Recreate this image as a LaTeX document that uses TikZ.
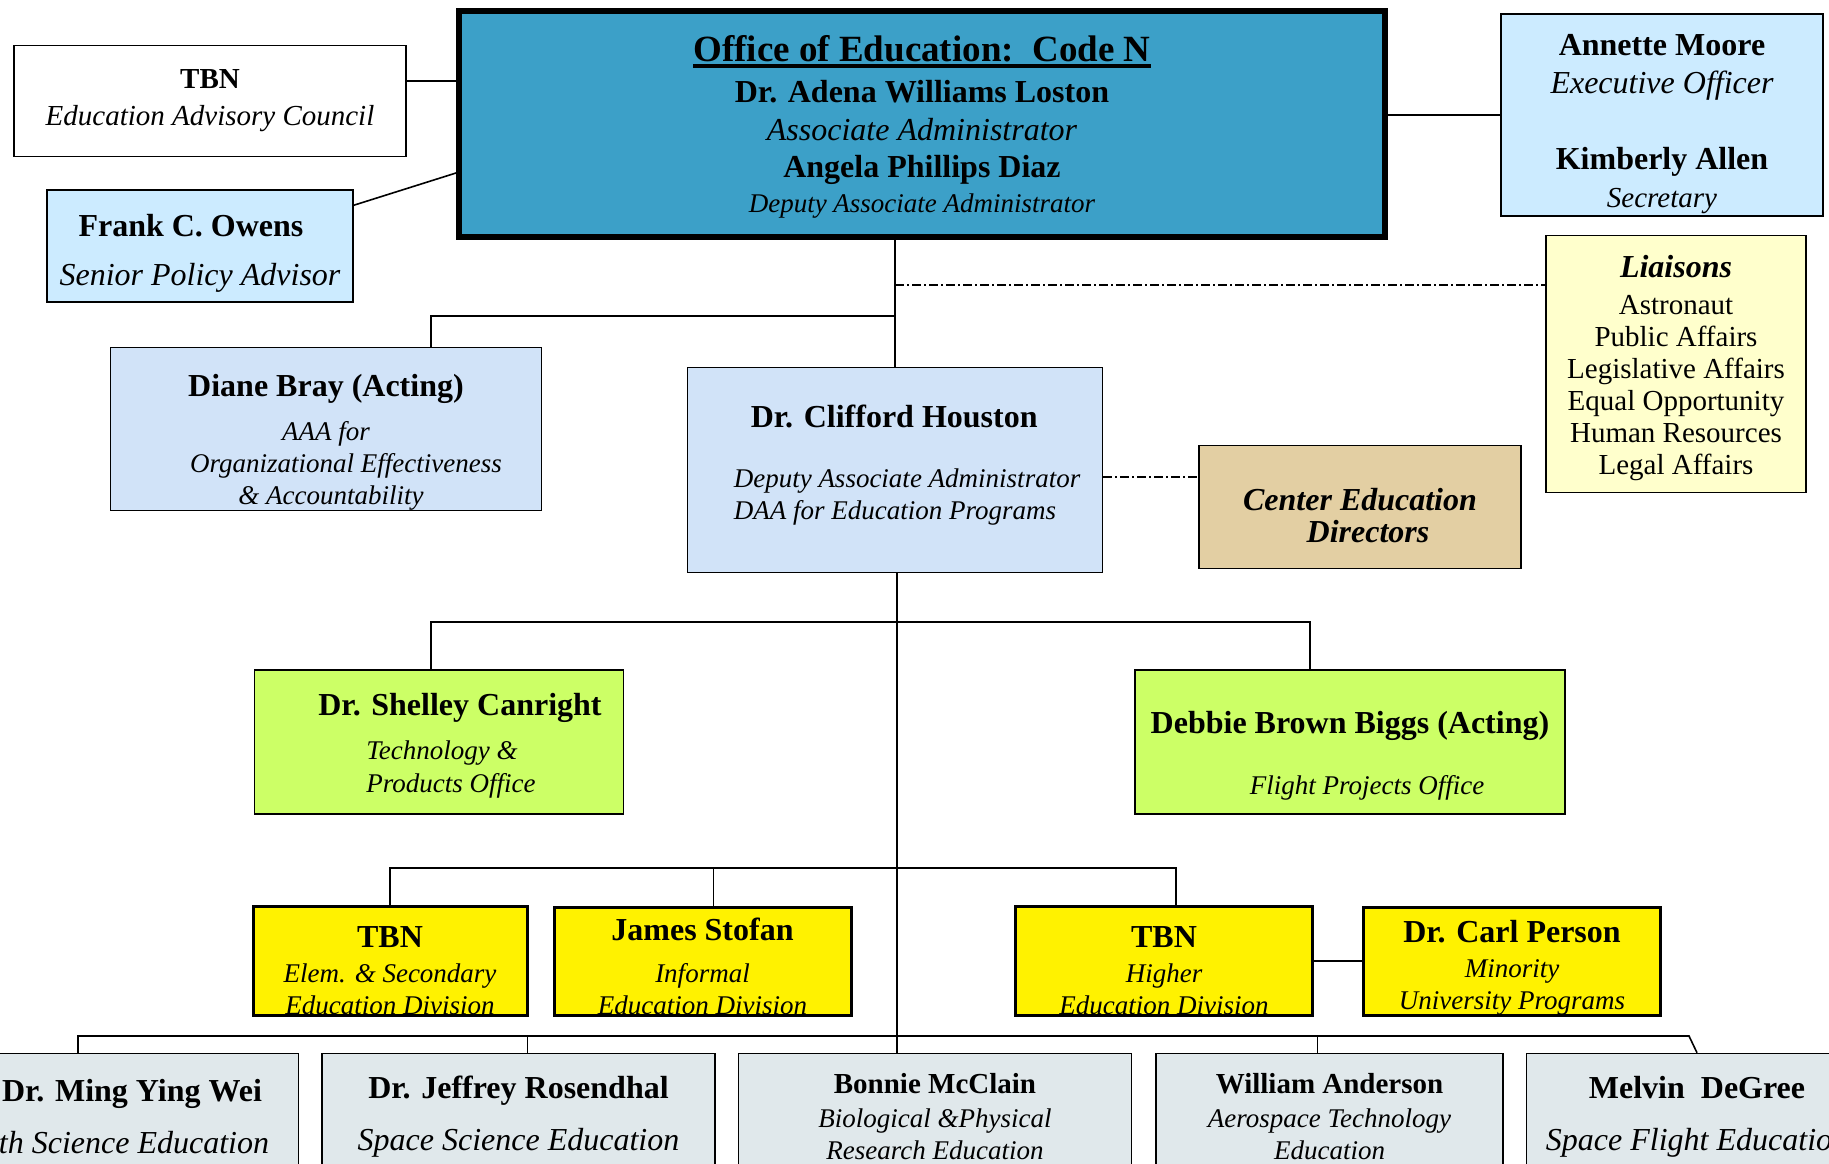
\documentclass[tikz,border=0pt]{standalone}
\usepackage{fontspec}
\setmainfont{Liberation Serif}
\usepackage{tikz}
\usetikzlibrary{positioning}
\definecolor{deskblue}{HTML}{3CA0C8}
\definecolor{staffblue}{HTML}{CCEBFF}
\definecolor{mottled}{HTML}{D1E3F8}
\definecolor{liaisonyellow}{HTML}{FFFFCC}
\definecolor{sand}{HTML}{E3CFA3}
\definecolor{lime}{HTML}{CCFF66}
\definecolor{steel}{HTML}{E0E8EB}
\tikzstyle{orgbox} = [rectangle, draw=black, line width=1.5pt, inner sep=0pt, align=center, font=\fontsize{32}{38}\selectfont]
\tikzstyle{office} = [orgbox, line width=6pt, fill=deskblue, minimum width=926pt, minimum height=226pt]
\tikzstyle{council} = [orgbox, fill=white, font=\fontsize{29}{37}\selectfont]
\tikzstyle{staff} = [orgbox, fill=staffblue]
\tikzstyle{liaison} = [orgbox, fill=liaisonyellow, font=\fontsize{29}{32}\selectfont]
\tikzstyle{deputy} = [orgbox, fill=mottled, font=\fontsize{27}{32}\selectfont\itshape]
\tikzstyle{directors} = [orgbox, fill=sand, font=\fontsize{32}{32}\selectfont\bfseries\itshape]
\tikzstyle{project} = [orgbox, fill=lime, minimum height=144pt, font=\fontsize{27}{33}\selectfont\itshape]
\tikzstyle{division} = [orgbox, line width=3pt, fill=yellow, minimum width=297pt, minimum height=108pt, font=\fontsize{27}{32}\selectfont\itshape]
\tikzstyle{program} = [orgbox, fill=steel, minimum height=127pt, font=\fontsize{32}{38}\selectfont\itshape]
\tikzstyle{link} = [line width=1.6pt]
\tikzstyle{liaise} = [line width=1.4pt, dash pattern=on 9pt off 3pt on 2pt off 3pt]

\begin{document}
\begin{tikzpicture}[x=1pt, y=-1pt]

	\useasboundingbox (0,0) rectangle (1829,1163);
	\clip (0,0) rectangle (1829,1163);

	\node (p1) [office] at (922,124) {\rule{0pt}{32pt}{\fontsize{37}{38}\selectfont\bfseries\setbox0\hbox{Office of Education:\ \ Code N}\rlap{\rule[-6pt]{\wd0}{3.5pt}}\box0}\\[3pt] {\bfseries Dr. Adena Williams Loston}\\ {\itshape Associate Administrator}\\[-1pt] {\bfseries Angela Phillips Diaz}\\[-3pt] {\fontsize{27}{32}\selectfont\itshape Deputy Associate Administrator}};
	\node (p2) [council, minimum width=392pt, minimum height=111pt] at (210,101) {{\bfseries TBN}\\ {\itshape Education Advisory Council}};
	\node (p3) [staff, minimum width=306pt, minimum height=112pt] at (200,246) {\rule{0pt}{37pt}{\bfseries Frank C. Owens}\hspace*{18pt}\\[11pt] {\itshape Senior Policy Advisor}};
	\node (p4) [staff, minimum width=322pt, minimum height=202pt] at (1662,115) {\rule{0pt}{39pt}{\bfseries Annette Moore}\\ {\itshape Executive Officer}\\[38pt] {\bfseries Kimberly Allen}\\ {\fontsize{29}{32}\selectfont\itshape Secretary}};
	\node (p5) [liaison, minimum width=260pt, minimum height=257pt] at (1676,364) {\rule{0pt}{30pt}{\fontsize{32}{32}\selectfont\bfseries\itshape Liaisons}\\[5pt] Astronaut\\ Public Affairs\\ Legislative Affairs\\ Equal Opportunity\\ Human Resources\\ Legal Affairs};

	\draw [link] ([yshift=20pt]p2.east) -- ([yshift=20pt]p2.east -| p1.west);
	\draw [link] ([yshift=-16pt]p3.north east) -- ([yshift=-49pt]p1.west);
	\draw [link] (p1.east |- p4.west) -- (p4.west);

	\node (p6) [deputy, minimum width=431pt, minimum height=159pt] at (326,429) {\rule{0pt}{49pt}{\fontsize{32}{38}\selectfont\upshape\bfseries Diane Bray (Acting)}\\[12pt] AAA for\hspace*{24pt}\\ \hspace*{40pt}Organizational Effectiveness\\ \hspace*{10pt}\& Accountability};
	\node (p7) [deputy, align=left, minimum width=415pt, minimum height=205pt] at (895,470) {\hspace*{41pt}{\fontsize{32}{38}\selectfont\upshape\bfseries Dr. Clifford Houston}\\[28pt] \hspace*{24pt}Deputy Associate Administrator\\ \hspace*{24pt}DAA for Education Programs\rule[-15pt]{0pt}{0pt}};
	\node (p8) [directors, minimum width=322pt, minimum height=123pt, right=95pt of p7, yshift=-37pt] {\rule{0pt}{39pt}Center Education\\ \hspace*{16pt}Directors};

	\draw [link] (p1.south -| p7.north) -- (p7.north);
	\coordinate (k1) at (895,285);
	\draw [liaise] (k1) -- (k1 -| p5.west);
	\coordinate (k2) at (895,316);
	\draw [link] (k2) -| ([xshift=105pt]p6.north);
	\draw [liaise] ([yshift=-7pt]p7.east) -- ([yshift=-7pt]p7.east -| p8.west);

	\node (p9) [project, align=left, minimum width=369pt] at (439,742) {\rule{0pt}{30pt}\hspace*{42pt}{\fontsize{32}{38}\selectfont\upshape\bfseries Dr. Shelley Canright}\\[11pt] \hspace*{90pt}Technology \&\\ \hspace*{90pt}Products Office};
	\node (p10) [project, minimum width=430pt] at (1350,742) {\rule{0pt}{49pt}{\fontsize{32}{38}\selectfont\upshape\bfseries Debbie Brown Biggs (Acting)}\\[28pt] \hspace*{34pt}Flight Projects Office};

	\coordinate (k3) at (897,622);
	\draw [link] ([xshift=-8pt]p9.north) |- (k3) -| ([xshift=-40pt]p10.north);

	\node (p11) [division, minimum width=274pt] at (390,961) {\rule{0pt}{41pt}{\fontsize{32}{38}\selectfont\upshape\bfseries TBN}\\[3pt] Elem. \& Secondary\\ Education Division};
	\node (p12) [division, right=24pt of p11] {\rule{0pt}{33pt}{\fontsize{32}{38}\selectfont\upshape\bfseries James Stofan}\\[10pt] Informal\\ Education Division};
	\node (p13) [division] at (1164,961) {\rule{0pt}{41pt}{\fontsize{32}{38}\selectfont\upshape\bfseries TBN}\\[3pt] Higher\\ Education Division};
	\node (p14) [division, right=48pt of p13] {\rule{0pt}{35pt}{\fontsize{32}{38}\selectfont\upshape\bfseries Dr. Carl Person}\\[3pt] Minority\\ University Programs};

	\coordinate (k4) at (897,868);
	\draw [link] (p11.north) |- (k4) -| ([xshift=12pt]p13.north);
	\draw [link] ([xshift=11pt]p12.north) -- ([xshift=11pt]p12.north |- k4);
	\draw [link] (p13.east) -- (p14.west);

	\node (p15) [program, minimum width=349pt] at (124,1117) {\hspace*{16pt}{\upshape\bfseries Dr. Ming Ying Wei}\\[14pt] Earth Science Education\hspace*{28pt}};
	\node (p16) [program, minimum width=393pt, right=22pt of p15] {{\upshape\bfseries Dr. Jeffrey Rosendhal}\\[14pt] Space Science Education};
	\node (p17) [program, minimum width=393pt, right=22pt of p16, font=\fontsize{27}{32}\selectfont\itshape] {{\fontsize{29}{34}\selectfont\upshape\bfseries Bonnie McClain}\\[2pt] Biological \&Physical\\ Research Education};
	\node (p18) [program, minimum width=347pt, right=23pt of p17, font=\fontsize{27}{32}\selectfont\itshape] {{\fontsize{29}{34}\selectfont\upshape\bfseries William Anderson}\\[2pt] Aerospace Technology\\ Education};
	\node (p19) [program, minimum width=341pt, right=22pt of p18] {{\upshape\bfseries Melvin\ \ DeGree}\\[14pt] Space Flight Education};

	\draw [link] ([xshift=2pt]p7.south) -- ([xshift=2pt]p7.south |- p17.north);
	\coordinate (k5) at (897,1036);
	\draw [link] ([xshift=-46pt]p15.north) |- (k5) -- ([xshift=-8pt]p19.north |- k5) -- (p19.north);
	\draw [link] ([xshift=9pt]p16.north) -- ([xshift=9pt]p16.north |- k5);
	\draw [link] ([xshift=-12pt]p18.north) -- ([xshift=-12pt]p18.north |- k5);

\end{tikzpicture}
\end{document}
